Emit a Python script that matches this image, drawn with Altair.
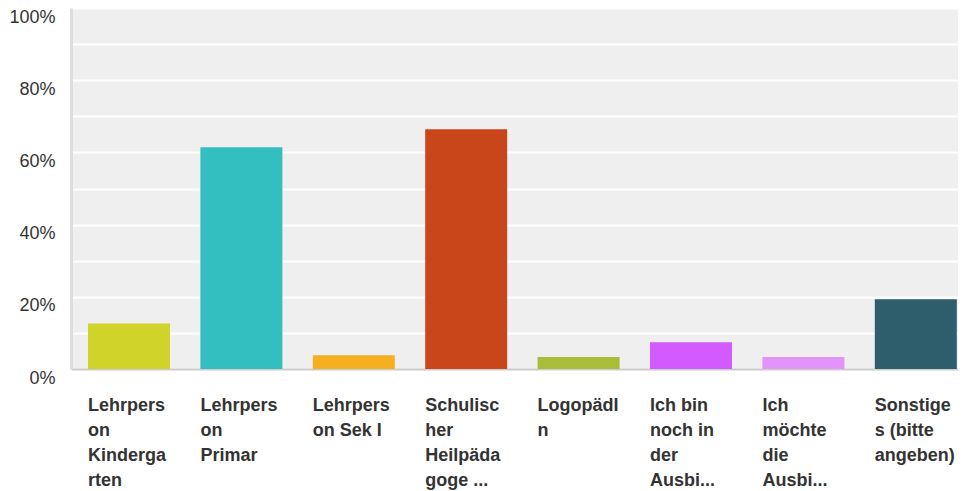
import altair as alt
import pandas as pd

categories = [
    "Lehrpers|on|Kinderga|rten",
    "Lehrpers|on|Primar",
    "Lehrpers|on Sek I",
    "Schulisc|her|Heilpäda|goge ...",
    "LogopädI|n",
    "Ich bin|noch in|der|Ausbi...",
    "Ich|möchte|die|Ausbi...",
    "Sonstige|s (bitte|angeben)",
]
values = [0.126, 0.614, 0.038, 0.664, 0.033, 0.074, 0.033, 0.193]
colors = ["#d0d42a", "#33bec0", "#f7af22", "#c9461a", "#aabd38", "#d25aff", "#e394fa", "#2e5e6c"]
y_ticks = [0, 0.1, 0.2, 0.3, 0.4, 0.5, 0.6, 0.7, 0.8, 0.9, 1.0]

df = pd.DataFrame({"cat": categories, "val": values})

chart = alt.Chart(df).mark_bar().encode(
    x=alt.X(
        "cat:N",
        sort=None,
        scale=alt.Scale(range=[0, 902.8], paddingInner=0.2705, paddingOuter=0.1512),
        axis=alt.Axis(
            title=None,
            labelAngle=0,
            labelAlign="left",
            labelBaseline="top",
            labelOffset=-41,
            labelPadding=27,
            labelFont="Liberation Sans",
            labelFontWeight="bold",
            labelFontSize=18,
            labelLineHeight=25,
            labelColor="#333333",
            labelLimit=0,
            labelOverlap=False,
            labelBound=False,
            labelExpr="split(datum.label, '|')",
            ticks=False,
            domainColor="#cccccc",
            domainWidth=2,
            grid=False,
        ),
    ),
    y=alt.Y(
        "val:Q",
        scale=alt.Scale(domain=[0, 1], nice=False),
        axis=alt.Axis(
            title=None,
            values=y_ticks,
            labelExpr="(round(datum.value*100) % 20 == 0) ? format(datum.value, '.0%') : ''",
            labelFont="Liberation Sans",
            labelFontSize=18,
            labelColor="#333333",
            labelPadding=16,
            labelOffset=9,
            ticks=False,
            grid=True,
            gridColor="#ffffff",
            gridWidth=2,
            domainColor="#dddddd",
            domainWidth=3,
        ),
    ),
    color=alt.Color("cat:N", sort=None, scale=alt.Scale(domain=categories, range=colors), legend=None),
).properties(
    width=887,
    height=361,
    autosize=alt.AutoSizeParams(type="none"),
    padding={"left": 63, "top": 0, "right": 0, "bottom": 122},
).configure_view(
    fill="#efefef",
    stroke=None,
    strokeWidth=0,
)

chart.save("out.html", embed_options={"renderer": "svg", "actions": False})
